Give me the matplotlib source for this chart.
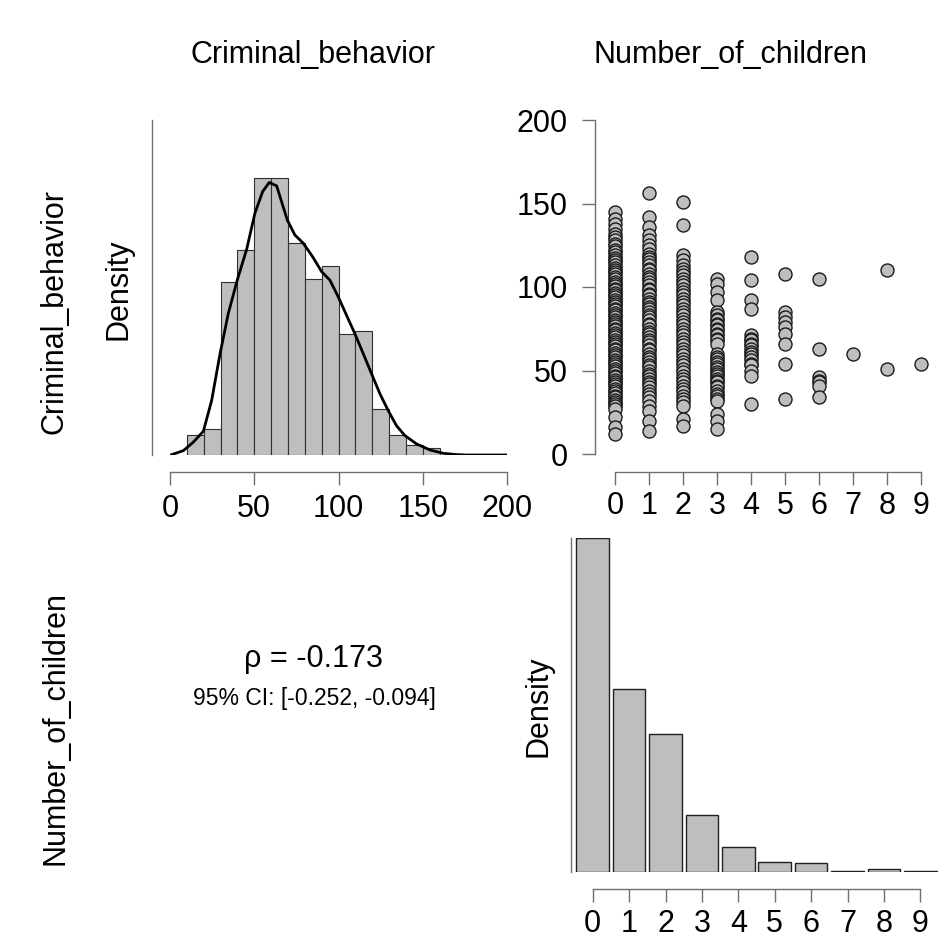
import matplotlib
matplotlib.use("Agg")
import matplotlib.pyplot as plt
import numpy as np

plt.rcParams['font.family'] = ['Liberation Sans', 'DejaVu Sans']

# ---------------- data ----------------
titles = ["Criminal_behavior", "Number_of_children"]

# histogram of Criminal_behavior (bins of width 10)
crime_bin_edges = [10, 20, 30, 40, 50, 60, 70, 80, 90, 100, 110, 120, 130, 140, 150, 160]
crime_counts = [6, 8, 53, 63, 85, 85, 65, 54, 58, 37, 38, 14, 6, 3, 2]

# density curve
kde_x = [0.4, 7.9, 13.8, 19.8, 24.7, 29.7, 34.6, 39.9, 45.5, 50.4, 55.0, 58.9, 63.3,
         69.6, 74.1, 79.1, 84.6, 90.0, 94.9, 99.8, 104.8, 109.7, 114.7, 119.6, 124.6,
         129.5, 134.4, 139.4, 146.3, 154.2, 162.1, 170.0, 176.0, 200.0]
kde_y = [0.0, 0.00023, 0.00068, 0.00126, 0.00289, 0.00538, 0.00752, 0.00929, 0.01093,
         0.01285, 0.01400, 0.01448, 0.01430, 0.01249, 0.01169, 0.01125, 0.01054, 0.00974,
         0.00929, 0.00841, 0.00742, 0.00645, 0.00538, 0.00432, 0.00325, 0.00236, 0.00156,
         0.00103, 0.00059, 0.00027, 0.00009, 0.00002, 0.0, 0.0]

# scatter: Criminal_behavior by Number_of_children
kids0 = [145, 141, 138, 135, 132, 130, 128, 126, 124.5, 122, 121, 119, 117.5, 116, 115, 113,
         111.5, 110, 109, 107.5, 106, 104.5, 103, 102, 100.5, 99, 98, 96.5, 95, 94, 92.5, 91,
         90, 88.5, 87, 86, 84.5, 83, 82, 80.5, 79, 78, 76.5, 75, 74, 72.5, 71, 70, 68.5, 67,
         66, 64.5, 63, 62, 60.5, 59, 58, 56.5, 55, 54, 52.5, 51, 50, 48.5, 47, 46, 44.5, 43,
         42, 40.5, 39, 38, 36.5, 35, 34, 32.5, 31, 30, 28.5, 27, 22, 16, 12]
kids1 = [156, 142, 136, 131, 128, 125, 123, 120, 118, 117, 115, 113, 111, 110, 108, 106,
         105, 103, 101, 99, 98, 96, 95, 93, 91, 90, 88, 87, 85, 83, 82, 80, 78, 77, 75, 73,
         72, 70, 68, 67, 65, 63, 62, 60, 58, 57, 55, 53, 52, 50, 48, 47, 45, 43, 42, 40, 38,
         36, 34, 32, 29, 26, 20, 14]
kids2 = [151, 137, 119, 116, 113, 111, 109, 107, 105, 103, 101, 99, 97, 95, 93, 91, 89, 87,
         85, 83, 81, 79, 77, 75, 73, 71, 69, 67, 65, 63, 61, 59, 57, 55, 53, 51, 49, 47, 45,
         43, 41, 39, 37, 35, 33, 31, 29, 21, 17]
kids3 = [105, 102, 97, 92, 85, 83, 81, 80, 78, 77, 75, 74, 72, 71, 69, 68, 66, 60, 58, 57,
         55, 54, 52, 51, 49, 48, 47, 45, 44, 43, 41, 40, 38, 36, 35, 33, 32, 24, 20, 15]
kids4 = [118, 104, 92, 87, 71, 69, 68, 66, 65, 63, 61, 60, 58, 56, 54, 53, 50, 47, 30]
kids5 = [108, 85, 82, 79, 76, 72, 66, 54, 33]
kids6 = [105, 63, 46, 44, 43, 41, 34]
kids7 = [60]
kids8 = [110, 51]
kids9 = [54]
scatter_groups = [kids0, kids1, kids2, kids3, kids4, kids5, kids6, kids7, kids8, kids9]

# bar chart of Number_of_children
children_levels = [0, 1, 2, 3, 4, 5, 6, 7, 8, 9]
children_counts = [257, 141, 106, 44, 19, 8, 7, 1, 2, 1]

rho_text = "\u03c1 = -0.173"
ci_text = "95% CI: [-0.252, -0.094]"

# ---------------- layout ----------------
W = H = 940
fig = plt.figure(figsize=(W / 100, H / 100), dpi=100)
PT = 0.72  # points per pixel

GRAY = '#BEBEBE'
AXC = '#707070'
FS = 22


def px_axes(x0, y0, x1, y1):
    return fig.add_axes([x0 / W, 1 - y1 / H, (x1 - x0) / W, (y1 - y0) / H])


def style(ax, left_out, bottom_out):
    for s in ['top', 'right']:
        ax.spines[s].set_visible(False)
    ax.spines['left'].set_position(('outward', left_out * PT))
    ax.spines['bottom'].set_position(('outward', bottom_out * PT))
    for s in ['left', 'bottom']:
        ax.spines[s].set_color(AXC)
        ax.spines[s].set_linewidth(1.0)
    ax.tick_params(colors=AXC, labelcolor='black', length=13 * PT, width=1.0,
                   labelsize=FS)
    ax.patch.set_visible(False)


# ---- top-left: histogram with density ----
ax1 = px_axes(170, 120, 507, 455)
n_crime = sum(crime_counts)
edges = np.array(crime_bin_edges)
dens = np.array(crime_counts) / (n_crime * np.diff(edges))
ax1.bar(edges[:-1], dens, width=np.diff(edges), align='edge', color=GRAY,
        edgecolor='#303030', linewidth=0.8)
ax1.plot(kde_x, kde_y, color='black', linewidth=2.0)
ax1.set_xlim(0, 200)
ax1.set_ylim(0, 0.0178)
style(ax1, 18, 17)
ax1.spines['bottom'].set_bounds(0, 200)
ax1.set_xticks([0, 50, 100, 150, 200])
ax1.tick_params(axis='x', pad=6.5)
ax1.tick_params(axis='y', left=False, labelleft=False)

# ---- top-right: scatter ----
ax2 = px_axes(615, 120, 921, 454)
for k, ys in enumerate(scatter_groups):
    ax2.scatter([children_levels[k]] * len(ys), ys, s=88, color=GRAY,
                edgecolor='#1a1a1a', linewidth=1.0, clip_on=False, zorder=3)
ax2.set_xlim(0, 9)
ax2.set_ylim(0, 200)
style(ax2, 20, 18)
ax2.spines['bottom'].set_bounds(0, 9)
ax2.spines['left'].set_bounds(0, 200)
ax2.set_xticks(children_levels)
ax2.set_yticks([0, 50, 100, 150, 200])
ax2.tick_params(axis='x', pad=4.3)
ax2.tick_params(axis='y', pad=10.4)

# ---- bottom-right: bar chart ----
ax4 = px_axes(574.5, 538, 938.5, 872)
n_kids = sum(children_counts)
kid_dens = np.array(children_counts) / n_kids
ax4.bar(children_levels, kid_dens, width=0.9, color=GRAY, edgecolor='#202020',
        linewidth=1.0)
ax4.set_xlim(-0.5, 9.5)
ax4.set_ylim(0, kid_dens.max())
style(ax4, 3.5, 17)
ax4.spines['bottom'].set_bounds(0, 9)
ax4.set_xticks(children_levels)
ax4.tick_params(axis='x', pad=5.0)
ax4.tick_params(axis='y', left=False, labelleft=False)

# ---- texts ----
fig.text(313 / W, 1 - 63 / H, titles[0], ha='center', va='baseline', fontsize=FS)
fig.text(731 / W, 1 - 63 / H, titles[1], ha='center', va='baseline', fontsize=FS)

fig.text(63 / W, 1 - 312 / H, titles[0], rotation=90, rotation_mode='anchor',
         ha='center', va='baseline', fontsize=FS)
fig.text(63 / W, 1 - 728 / H, titles[1], rotation=90, rotation_mode='anchor',
         ha='center', va='baseline', fontsize=FS)

fig.text(127 / W, 1 - 289 / H, "Density", rotation=90, rotation_mode='anchor',
         ha='center', va='baseline', fontsize=FS)
fig.text(547 / W, 1 - 706 / H, "Density", rotation=90, rotation_mode='anchor',
         ha='center', va='baseline', fontsize=FS)

fig.text(313 / W, 1 - 666.5 / H, rho_text, ha='center', va='baseline', fontsize=FS)
fig.text(314.5 / W, 1 - 705 / H, ci_text, ha='center', va='baseline', fontsize=16.5)

fig.savefig("out.png", dpi=100, facecolor='white')
